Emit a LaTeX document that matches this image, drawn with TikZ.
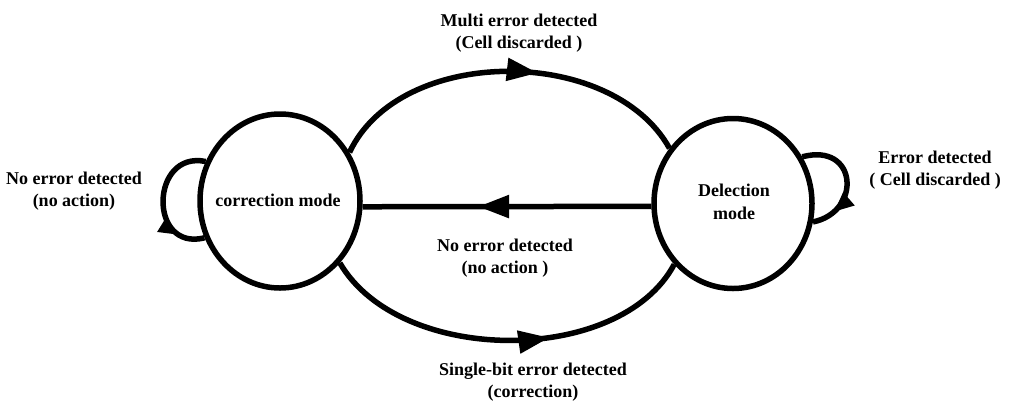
\documentclass[tikz,border=0pt]{standalone}
\usepackage{fontspec}
\setmainfont{Liberation Serif}
\usetikzlibrary{shapes.geometric,arrows.meta,decorations.markings}
\tikzset{
  state/.style={ellipse,draw,line width=5.5pt,inner sep=0pt,align=center},
  lbl/.style={align=center,inner sep=0pt},
  edge/.style={line width=5.5pt},
  bigtip/.style={decoration={markings,mark=at position #1 with {\arrow{Triangle[length=31pt,width=22pt]}}},postaction={decorate}},
  smalltip/.style={decoration={markings,mark=at position #1 with {\arrow{Triangle[length=20pt,width=16pt]}}},postaction={decorate}}
}
\begin{document}
\begin{tikzpicture}[x=1pt,y=-1pt,font=\fontsize{18}{22.5}\selectfont\bfseries]
\useasboundingbox (0,0) rectangle (1011,408);
\node[state,minimum width=160pt,minimum height=174pt] (L) at (280,201) {};
\node[state,minimum width=158pt,minimum height=170pt] (R) at (733,203.5) {};
\node[lbl] (Lt) at (278,200) {correction mode};
\node[lbl] (Rt) at (734,202) {Delection\\mode};
% top arc
\draw[edge,bigtip=0.58] (L.35.8) .. controls (400,45) and (612,45) .. (R.139.7);
% bottom arc
\draw[edge,bigtip=0.61] (L.-46.9) .. controls (400,366) and (620,366) .. (R.226.7);
% middle
\draw[edge,bigtip=0.6] (R.182.5) -- (L.-4.3);
% loops
\draw[edge,smalltip=0.8] (L.152.5) .. controls (150,150) and (148,252) .. (L.206.6);
\draw[edge,smalltip=0.8] (R.34) .. controls (858,142) and (862,212) .. (R.-13.6);
% labels
\node[lbl] (t1) at (519,33) {Multi error detected\\(Cell discarded )};
\node[lbl] (t2) at (74,191) {No error detected\\(no action)};
\node[lbl] (t3) at (935,170) {Error detected\\( Cell discarded )};
\node[lbl] (t4) at (505,258) {No error detected\\(no action )};
\node[lbl] (t5) at (533,382) {Single-bit error detected\\(correction)};
\end{tikzpicture}
\end{document}
